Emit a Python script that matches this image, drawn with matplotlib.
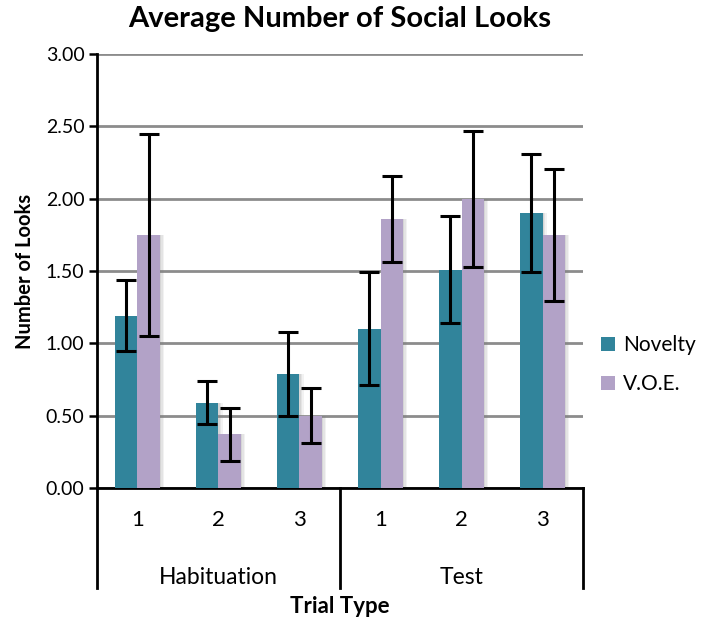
import numpy as np
import matplotlib
matplotlib.use("Agg")
import matplotlib.pyplot as plt

plt.rcParams['font.family'] = ['Lato', 'DejaVu Sans']

trials = ['1', '2', '3', '1', '2', '3']
phases = ['Habituation', 'Test']
novelty = [1.19, 0.59, 0.79, 1.10, 1.51, 1.90]
novelty_err = [0.245, 0.15, 0.29, 0.39, 0.37, 0.41]
voe = [1.75, 0.37, 0.50, 1.86, 2.00, 1.75]
voe_err = [0.70, 0.18, 0.19, 0.30, 0.47, 0.455]

teal = '#31849B'
lavender = '#B2A2C7'

fig = plt.figure(figsize=(7.09, 6.2), dpi=100)
ax = fig.add_axes([0.1368, 0.2129, 0.6855, 0.70])

x = np.arange(len(trials))
w = 0.275

# soft shadow behind bars
for off, a in [(0.05, 0.10), (0.035, 0.12), (0.02, 0.15)]:
    ax.bar(x - w / 2 + off, novelty, w, color='#808080', alpha=a, zorder=2, linewidth=0)
    ax.bar(x + w / 2 + off, voe, w, color='#808080', alpha=a, zorder=2, linewidth=0)

ax.bar(x - w / 2, novelty, w, color=teal, zorder=3, label='Novelty', linewidth=0)
ax.bar(x + w / 2, voe, w, color=lavender, zorder=3, label='V.O.E.', linewidth=0)
ax.errorbar(x - w / 2, novelty, yerr=novelty_err, fmt='none', ecolor='black',
            elinewidth=2.2, capsize=7, capthick=2.2, zorder=4)
ax.errorbar(x + w / 2, voe, yerr=voe_err, fmt='none', ecolor='black',
            elinewidth=2.2, capsize=7, capthick=2.2, zorder=4)

ax.set_xlim(-0.5, 5.5)
ax.set_ylim(0, 3)
ax.set_yticks(np.arange(0, 3.01, 0.5))
ax.set_yticklabels([f'{v:.2f}' for v in np.arange(0, 3.01, 0.5)], fontsize=14)
ax.yaxis.grid(True, color='#8c8c8c', linewidth=2)
ax.set_axisbelow(True)
ax.tick_params(axis='y', direction='out', length=6, width=1.8, color='black', pad=3)
ax.set_xticks([])

for s in ['top', 'right']:
    ax.spines[s].set_visible(False)
ax.spines['left'].set_linewidth(2)
ax.spines['bottom'].set_linewidth(2)

# category axis drawn by hand (two levels)
tr = ax.get_xaxis_transform()
for sep in [-0.5, 2.5, 5.5]:
    ax.plot([sep, sep], [0, -0.2304], transform=tr, color='black', lw=2, clip_on=False)
for xi, t in zip(x, trials):
    ax.text(xi, -0.074, t, transform=tr, ha='center', va='center', fontsize=16)
for i, p in enumerate(phases):
    ax.text(1 + 3 * i, -0.207, p, transform=tr, ha='center', va='center', fontsize=16.5)
ax.text(2.5, -0.272, 'Trial Type', transform=tr, ha='center', va='center',
        fontsize=16, fontweight='bold')

ax.set_ylabel('Number of Looks', fontsize=14.5, fontweight='bold', labelpad=8)
fig.text(0.1368 + 0.6855 / 2, 1 - 19 / 620, 'Average Number of Social Looks',
         ha='center', va='center', fontsize=21, fontweight='bold')

fig.legend(loc='center left', bbox_to_anchor=(0.842, 0.412), frameon=False,
           fontsize=15, handlelength=0.65, handleheight=0.65, handletextpad=0.4,
           labelspacing=0.9, borderpad=0.2, borderaxespad=0.0)

fig.savefig('out.png', dpi=100)
